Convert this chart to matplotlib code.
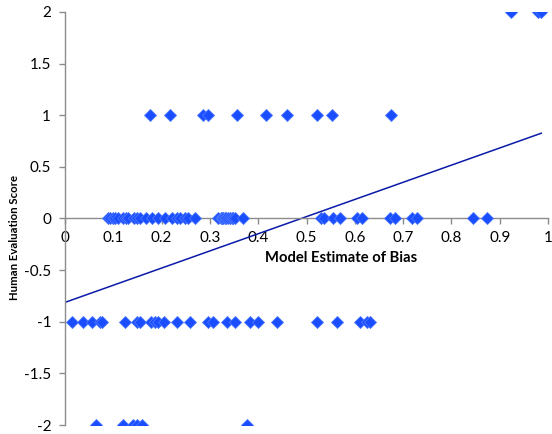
import matplotlib
matplotlib.use("Agg")
import matplotlib.pyplot as plt
import numpy as np

# model estimate of bias (x) grouped by the human score (y)
x_score_2 = [0.923, 0.980, 0.985]
x_score_1 = [0.176, 0.217, 0.286, 0.296, 0.356, 0.416, 0.460, 0.522, 0.553, 0.675]
x_score_0 = [0.088, 0.093, 0.100, 0.104, 0.110, 0.121, 0.126, 0.131, 0.143, 0.148,
             0.155, 0.167, 0.180, 0.193, 0.207, 0.222, 0.231, 0.238, 0.248, 0.255,
             0.269, 0.317, 0.322, 0.326, 0.328, 0.331, 0.334, 0.338, 0.342, 0.345,
             0.348, 0.352, 0.369, 0.531, 0.536, 0.555, 0.569, 0.604, 0.614, 0.673,
             0.683, 0.718, 0.728, 0.845, 0.873]
x_score_m1 = [0.014, 0.038, 0.055, 0.072, 0.076, 0.124, 0.148, 0.155, 0.179,
              0.186, 0.193, 0.204, 0.231, 0.259, 0.297, 0.307, 0.335,
              0.352, 0.383, 0.400, 0.438, 0.522, 0.564, 0.611, 0.625, 0.631]
x_score_m2 = [0.064, 0.119, 0.141, 0.150, 0.159, 0.376]

x_vals = np.array(x_score_2 + x_score_1 + x_score_0 + x_score_m1 + x_score_m2)
y_vals = np.array([2] * len(x_score_2) + [1] * len(x_score_1) + [0] * len(x_score_0)
                  + [-1] * len(x_score_m1) + [-2] * len(x_score_m2))

fig = plt.figure(figsize=(5.52, 4.34), dpi=100)
ax = fig.add_axes([0.1178, 0.0207, 0.875, 0.9517])

ax.plot(x_vals, y_vals, 'D', color='#1a4dff', markersize=6.2,
        markeredgecolor='#4a76ff', markeredgewidth=0.6, zorder=3)

# linear trend line
m, b = np.polyfit(x_vals, y_vals, 1)
xl = np.array([0, 0.986])
ax.plot(xl, m * xl + b, color='#0a1aa8', linewidth=1.1, zorder=2)

ax.set_xlim(0, 1)
ax.set_ylim(-2, 2)
ax.set_yticks([-2, -1.5, -1, -0.5, 0, 0.5, 1, 1.5, 2])
ax.set_yticklabels(['-2', '-1.5', '-1', '-0.5', '0', '0.5', '1', '1.5', '2'])
ax.set_xticks(np.arange(0, 1.01, 0.1))
ax.set_xticklabels(['0', '0.1', '0.2', '0.3', '0.4', '0.5', '0.6', '0.7', '0.8', '0.9', '1'])

ax.spines['top'].set_visible(False)
ax.spines['right'].set_visible(False)
ax.spines['bottom'].set_position(('data', 0))
for s in ['left', 'bottom']:
    ax.spines[s].set_color('#8c8c8c')
    ax.spines[s].set_linewidth(1.0)
ax.tick_params(axis='both', colors='#8c8c8c', length=4, width=1.0,
               labelcolor='black', labelsize=11)
ax.tick_params(axis='x', pad=5)
ax.tick_params(axis='y', pad=6)
for lab in ax.get_xticklabels() + ax.get_yticklabels():
    lab.set_family('Lato')

fig.text(341 / 552, 1 - 258 / 434, 'Model Estimate of Bias', ha='center', va='center',
         fontsize=10.6, fontweight='bold', family='Lato')
fig.text(15 / 552, 1 - 237 / 434, 'Human Evaluation Score', ha='center', va='center',
         rotation=90, fontsize=8.2, fontweight='bold', family='Lato')

fig.savefig('out.png', dpi=100)
